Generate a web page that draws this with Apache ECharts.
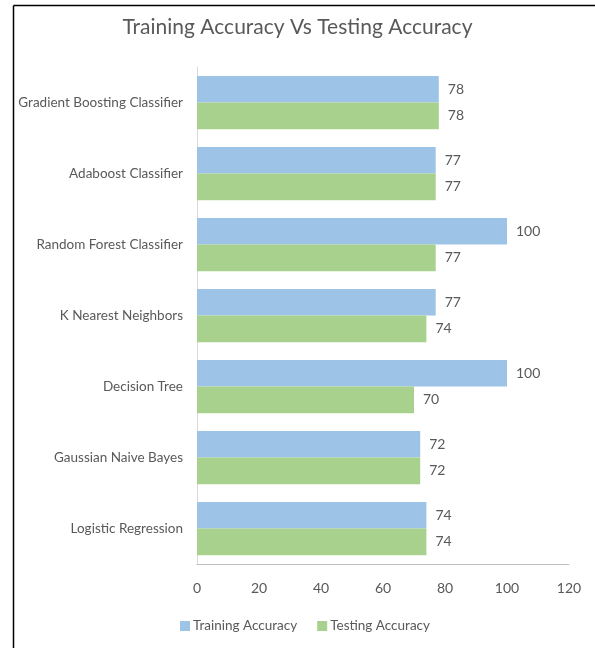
<!DOCTYPE html>
<html>
<head>
<meta charset="utf-8">
<script src="https://cdn.jsdelivr.net/npm/echarts@6/dist/echarts.min.js"></script>
<style>
  html, body { margin: 0; padding: 0; background: #fff; }
  #chart { width: 595px; height: 648px; }
</style>
</head>
<body>
<div id="chart"></div>
<script>
// Models, listed bottom-to-top as the category axis draws them
const models = [
  'Logistic Regression',
  'Gaussian Naive Bayes',
  'Decision Tree',
  'K Nearest Neighbors',
  'Random Forest Classifier',
  'Adaboost Classifier',
  'Gradient Boosting Classifier'
];
const trainingAccuracy = [74, 72, 100, 77, 100, 77, 78];
const testingAccuracy = [74, 72, 70, 74, 77, 77, 78];
const accuracyTicks = { min: 0, max: 120, interval: 20 };

const textColor = '#595959';
const font = 'Lato';

const chart = echarts.init(document.getElementById('chart'), null, { renderer: 'canvas' });

const barLabel = {
  show: true,
  position: 'right',
  distance: 9,
  color: textColor,
  fontFamily: font,
  fontSize: 14
};

chart.setOption({
  animation: false,
  backgroundColor: '#ffffff',
  title: {
    text: 'Training Accuracy Vs Testing Accuracy',
    left: 'center',
    top: 12,
    textStyle: { color: textColor, fontFamily: font, fontSize: 21, fontWeight: 'normal' }
  },
  legend: {
    bottom: 10,
    left: 175,
    itemWidth: 10,
    itemHeight: 10,
    itemGap: 20,
    icon: 'rect',
    textStyle: { color: textColor, fontFamily: font, fontSize: 13.5, padding: [0, 0, 0, -2] },
    data: ['Training Accuracy', 'Testing Accuracy']
  },
  grid: { left: 197, right: 26, top: 67, bottom: 84, containLabel: false },
  xAxis: {
    type: 'value',
    min: accuracyTicks.min,
    max: accuracyTicks.max,
    interval: accuracyTicks.interval,
    axisLine: { show: true, lineStyle: { color: '#bfbfbf', width: 1 } },
    axisTick: { show: false },
    splitLine: { show: false },
    axisLabel: { color: textColor, fontFamily: font, fontSize: 14, margin: 17 }
  },
  yAxis: {
    type: 'category',
    data: models,
    axisLine: { show: true, lineStyle: { color: '#d9d9d9', width: 1 } },
    axisTick: { show: false },
    axisLabel: { color: textColor, fontFamily: font, fontSize: 13.5, margin: 14 }
  },
  series: [
    {
      name: 'Training Accuracy',
      type: 'bar',
      data: trainingAccuracy,
      barGap: '0%',
      barCategoryGap: '25%',
      itemStyle: { color: '#9dc3e6' },
      label: barLabel
    },
    {
      name: 'Testing Accuracy',
      type: 'bar',
      data: testingAccuracy,
      barGap: '0%',
      barCategoryGap: '25%',
      itemStyle: { color: '#a9d18e' },
      label: barLabel
    }
  ],
  graphic: [
    { type: 'line', shape: { x1: 13.5, y1: 5.5, x2: 595, y2: 5.5 }, style: { stroke: '#000', lineWidth: 1.5 } },
    { type: 'line', shape: { x1: 13.5, y1: 5.5, x2: 13.5, y2: 648 }, style: { stroke: '#000', lineWidth: 1.5 } }
  ]
});
</script>
</body>
</html>
